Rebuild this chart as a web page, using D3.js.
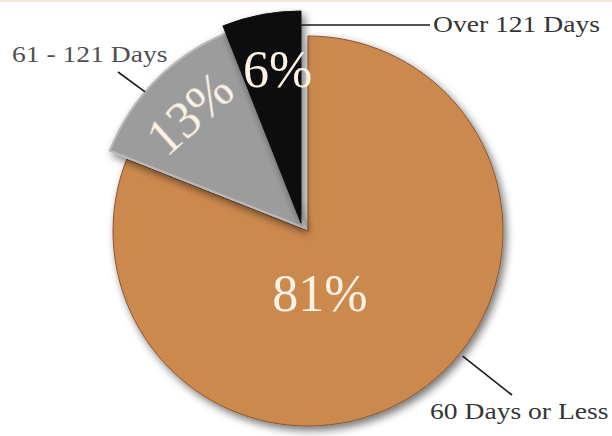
<!DOCTYPE html>
<html>
<head>
<meta charset="utf-8">
<script src="https://cdn.jsdelivr.net/npm/d3@7/dist/d3.min.js"></script>
<style>
  html, body { margin: 0; padding: 0; background: #ffffff; }
  svg { display: block; }
</style>
</head>
<body>
<script>
// Aging of receivables: share of items by days outstanding
const categories = ["60 Days or Less", "61 - 121 Days", "Over 121 Days"];
const shares = [81, 13, 6];
const shareLabels = ["81%", "13%", "6%"];

// Styling and layout, kept apart from the data
const sliceColors = ["#cc894e", "#9c9c9c", "#070707"];
const sliceRadius = [195, 210, 212];
const sliceShift = [[0, 0], [-3, -3], [-7, -8]];
const labelPolar = [[169, 62], [315, 168], [349.5, 166]]; // degrees, radius
const labelRotate = [0, -42, 0];

const W = 612, H = 436;
const cx = 308, cy = 231;
const serif = "'Palatino Linotype','Book Antiqua',Palatino,'Liberation Serif','Times New Roman',serif";

const svg = d3.select("body").append("svg")
  .attr("width", W).attr("height", H);

const defs = svg.append("defs");
const shadow = defs.append("filter").attr("id", "shadow")
  .attr("x", "-20%").attr("y", "-20%").attr("width", "140%").attr("height", "140%");
shadow.append("feGaussianBlur").attr("in", "SourceAlpha").attr("stdDeviation", 4).attr("result", "b");
shadow.append("feOffset").attr("in", "b").attr("dx", 3).attr("dy", 4).attr("result", "o");
shadow.append("feComponentTransfer").attr("in", "o").attr("result", "s")
  .append("feFuncA").attr("type", "linear").attr("slope", 0.55);
const m = shadow.append("feMerge");
m.append("feMergeNode").attr("in", "s");
m.append("feMergeNode").attr("in", "SourceGraphic");

const glow = defs.append("filter").attr("id", "glow")
  .attr("x", "-20%").attr("y", "-20%").attr("width", "140%").attr("height", "140%");
glow.append("feGaussianBlur").attr("in", "SourceGraphic").attr("stdDeviation", 0.6);

// faint remnant of a heading band along the top edge
svg.append("rect").attr("x", 0).attr("y", 0).attr("width", W).attr("height", 2)
  .attr("fill", "#f1e4d4");

const pie = d3.pie().sort(null).value(d => d)(shares);
const g = svg.append("g").attr("transform", `translate(${cx},${cy})`);

const rad = a => a * Math.PI / 180;
const polar = (deg, r) => [r * Math.sin(rad(deg)), -r * Math.cos(rad(deg))];

pie.forEach((p, i) => {
  const arc = d3.arc().innerRadius(0).outerRadius(sliceRadius[i]);
  g.append("path")
    .attr("transform", `translate(${sliceShift[i][0]},${sliceShift[i][1]})`)
    .attr("d", arc(p))
    .attr("fill", sliceColors[i])
    .attr("stroke", i === 0 ? "#8a5530" : (i === 1 ? "#b9b9b9" : "#111"))
    .attr("stroke-width", i === 1 ? 2 : 1)
    .attr("filter", "url(#shadow)");
});

// percentage labels inside slices
pie.forEach((p, i) => {
  const [x, y] = polar(labelPolar[i][0], labelPolar[i][1]);
  g.append("text")
    .attr("transform", `translate(${x},${y}) rotate(${labelRotate[i]})`)
    .attr("text-anchor", "middle")
    .attr("dy", "0.36em")
    .attr("font-family", serif)
    .attr("font-size", 52)
    .attr("fill", "#fbf1e4")
    .attr("filter", "url(#glow)")
    .text(shareLabels[i]);
});

// leader lines and category labels
const leaders = [
  { slice: 0, from: polar(129, 199), to: [512 - cx, 395 - cy] },
  { slice: 1, from: polar(-49.6, 210).map((v, k) => v + sliceShift[1][k]), to: [118 - cx, 72 - cy] },
  { slice: 2, from: [sliceShift[2][0], 25 - cy], to: [430 - cx, 25 - cy] }
];
leaders.forEach(l => {
  g.append("line")
    .attr("x1", l.from[0]).attr("y1", l.from[1])
    .attr("x2", l.to[0]).attr("y2", l.to[1])
    .attr("stroke", "#1a1a1a").attr("stroke-width", 1.6);
});

const labelPos = [[430, 419], [12, 62], [433, 32]];
const labelColor = ["#353535", "#505050", "#353535"];
categories.forEach((c, i) => {
  svg.append("text")
    .attr("transform", `translate(${labelPos[i][0]},${labelPos[i][1]}) scale(1.2,1)`)
    .attr("font-family", serif)
    .attr("font-size", 23)
    .attr("fill", labelColor[i])
    .text(c);
});
</script>
</body>
</html>
